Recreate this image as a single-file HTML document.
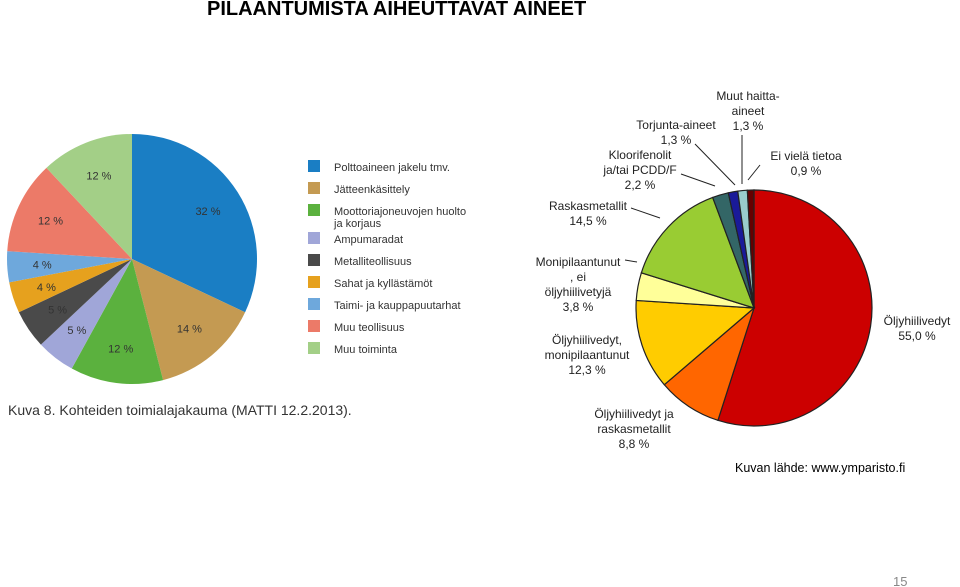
<!DOCTYPE html>
<html><head><meta charset="utf-8"><style>
body{margin:0;width:960px;height:587px;background:#fff;overflow:hidden;font-family:"Liberation Sans",sans-serif;}
</style></head><body>
<svg width="960" height="587" style="position:absolute;left:0;top:0">
<text x="207" y="15" font-size="20" font-weight="bold">PILAANTUMISTA AIHEUTTAVAT AINEET</text>
<g id="left"></g>
<g id="leg"></g>
<text x="8" y="415" font-size="14" fill="#333">Kuva 8. Kohteiden toimialajakauma (MATTI 12.2.2013).</text>
<g id="right"></g>
<text x="735" y="472" font-size="12.5">Kuvan lähde: www.ymparisto.fi</text>
<text x="893" y="586" font-size="13" fill="#888">15</text>
</svg>
<script>
const leftCategories=["Polttoaineen jakelu tmv.","Jätteenkäsittely","Moottoriajoneuvojen huolto ja korjaus","Ampumaradat","Metalliteollisuus","Sahat ja kyllästämöt","Taimi- ja kauppapuutarhat","Muu teollisuus","Muu toiminta"];
const leftValues=[32,14,12,5,5,4,4,12,12];
const leftColors=["#1a7ec4","#c49a52","#5bb13e","#a0a6d8","#4a4a4a","#e6a11e","#6ea8dc","#ec7a68","#a3cf87"];
const rightCategories=["Öljyhiilivedyt","Öljyhiilivedyt ja raskasmetallit","Öljyhiilivedyt, monipilaantunut","Monipilaantunut, ei öljyhiilivetyjä","Raskasmetallit","Kloorifenolit ja/tai PCDD/F","Torjunta-aineet","Muut haitta-aineet","Ei vielä tietoa"];
const rightValues=[55.0,8.8,12.3,3.8,14.5,2.2,1.3,1.3,0.9];
const rightColors=["#cc0000","#ff6600","#ffcc00","#ffff99","#99cc33","#336666","#1a1a99","#99cccc","#660000"];
const NS="http://www.w3.org/2000/svg";
function mk(t,a,p){const e=document.createElementNS(NS,t);for(const k in a)e.setAttribute(k,a[k]);p.appendChild(e);return e;}
function pt(cx,cy,r,f){const a=f*2*Math.PI;return [cx+r*Math.sin(a),cy-r*Math.cos(a)];}
function pie(g,vals,cols,cx,cy,r,stroke,labels){
 const tot=vals.reduce((a,b)=>a+b,0);let c=0;
 vals.forEach((v,i)=>{const s=c/tot,e=(c+v)/tot;c+=v;
  const p1=pt(cx,cy,r,s),p2=pt(cx,cy,r,e);const lg=(e-s)>0.5?1:0;
  const p=mk('path',{d:`M${cx},${cy}L${p1[0]},${p1[1]}A${r},${r} 0 ${lg} 1 ${p2[0]},${p2[1]}Z`,fill:cols[i],stroke:stroke,'stroke-width':stroke=='none'?0:1.2},g);
  
  
  if(labels){const m=pt(cx,cy,r*0.72,(s+e)/2);
   const t=mk('text',{x:m[0],y:m[1]+4,'text-anchor':'middle','font-size':11,fill:'#333'},g);t.textContent=v+' %';
   
   }
 });
}
pie(document.getElementById('left'),leftValues,leftColors,132,259,125,'none',true);
const leg=document.getElementById('leg');
const ly=[167,189,211,239,261,283,305,327,349];
leftCategories.forEach((n,i)=>{
 const r=mk('rect',{x:308,y:ly[i]-7,width:12,height:12,fill:leftColors[i]},leg);
 
 
 const t=mk('text',{x:334,y:ly[i]+4,'font-size':11,fill:'#333'},leg);
 
 
 if(i==2){t.textContent='Moottoriajoneuvojen huolto';const t2=mk('text',{x:334,y:ly[i]+16,'font-size':11,fill:'#333'},leg);t2.textContent='ja korjaus';}
 else t.textContent=n;
});
const rg=document.getElementById('right');
pie(rg,rightValues,rightColors,754,308,118,'#222',false);
const rl=[
 [[917,325],"Öljyhiilivedyt","55,0 %"],
 [[634,418],"Öljyhiilivedyt ja","raskasmetallit","8,8 %"],
 [[587,344],"Öljyhiilivedyt,","monipilaantunut","12,3 %"],
 [[578,266],"Monipilaantunut",", ei","öljyhiilivetyjä","3,8 %"],
 [[588,210],"Raskasmetallit","14,5 %"],
 [[640,159],"Kloorifenolit","ja/tai PCDD/F","2,2 %"],
 [[676,129],"Torjunta-aineet","1,3 %"],
 [[748,100],"Muut haitta-","aineet","1,3 %"],
 [[806,160],"Ei vielä tietoa","0,9 %"]];
rl.forEach((l,i)=>{
 const t=mk('text',{x:l[0][0],y:l[0][1],'text-anchor':'middle','font-size':12,fill:'#222'},rg);
 
 
 l.slice(1).forEach((s,j)=>{const ts=mk('tspan',{x:l[0][0],dy:j?15:0},t);ts.textContent=s;});
});
[["M625,260L637,262"],["M631,208L660,218"],["M681,174L715,186"],["M695,144L735,185"],["M742,135L742,184"],["M760,165L748,180"]].forEach((d,i)=>{
 const p=mk('path',{d:d[0],stroke:'#222',fill:'none','stroke-width':1},rg);
 
 
});
</script>
</body></html>
